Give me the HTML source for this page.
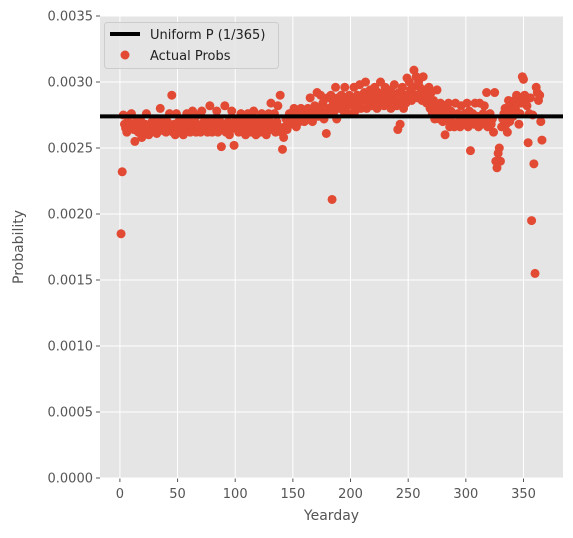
<!DOCTYPE html>
<html><head><meta charset="utf-8"><style>body{margin:0;background:#fff}svg text{font-family:"DejaVu Sans","Liberation Sans",sans-serif}</style></head>
<body>
<svg id="chart" width="573" height="533" xmlns="http://www.w3.org/2000/svg"></svg>
<script>
const xTicks=[0,50,100,150,200,250,300,350];
const yTicks=[0,0.0005,0.001,0.0015,0.002,0.0025,0.003,0.0035];
const yTickLabels=["0.0000","0.0005","0.0010","0.0015","0.0020","0.0025","0.0030","0.0035"];
const uniformP=1/365;
const probs=[
0.00185,0.00232,0.00275,0.00268,0.00265,0.00262,0.00270,0.00266,0.00275,0.00276,
0.00268,0.00264,0.00255,0.00270,0.00266,0.00262,0.00268,0.00271,0.00258,0.00265,
0.00262,0.00268,0.00276,0.00264,0.00260,0.00267,0.00262,0.00270,0.00266,0.00264,
0.00268,0.00261,0.00270,0.00264,0.00280,0.00266,0.00272,0.00263,0.00268,0.00262,
0.00270,0.00266,0.00276,0.00264,0.00290,0.00262,0.00268,0.00260,0.00276,0.00266,
0.00270,0.00262,0.00268,0.00264,0.00260,0.00270,0.00266,0.00276,0.00263,0.00268,
0.00262,0.00272,0.00278,0.00265,0.00270,0.00262,0.00268,0.00275,0.00266,0.00262,
0.00278,0.00266,0.00270,0.00264,0.00268,0.00262,0.00270,0.00282,0.00266,0.00262,
0.00268,0.00264,0.00272,0.00278,0.00262,0.00266,0.00270,0.00251,0.00264,0.00268,
0.00282,0.00262,0.00266,0.00270,0.00260,0.00264,0.00278,0.00268,0.00252,0.00266,
0.00272,0.00264,0.00262,0.00270,0.00276,0.00266,0.00262,0.00272,0.00260,0.00268,
0.00276,0.00264,0.00270,0.00262,0.00268,0.00278,0.00264,0.00260,0.00272,0.00266,
0.00270,0.00262,0.00276,0.00268,0.00264,0.00272,0.00260,0.00266,0.00276,0.00270,
0.00284,0.00264,0.00268,0.00276,0.00262,0.00270,0.00282,0.00266,0.00290,0.00262,
0.00249,0.00258,0.00266,0.00272,0.00264,0.00270,0.00276,0.00268,0.00274,0.00272,
0.00280,0.00276,0.00266,0.00278,0.00272,0.00270,0.00280,0.00274,0.00276,0.00270,
0.00278,0.00272,0.00280,0.00276,0.00288,0.00274,0.00270,0.00278,0.00282,0.00276,
0.00292,0.00274,0.00280,0.00290,0.00278,0.00284,0.00272,0.00276,0.00261,0.00288,
0.00280,0.00276,0.00290,0.00211,0.00284,0.00278,0.00296,0.00272,0.00288,0.00282,
0.00280,0.00290,0.00284,0.00278,0.00296,0.00286,0.00282,0.00276,0.00290,0.00284,
0.00288,0.00282,0.00296,0.00278,0.00286,0.00290,0.00284,0.00298,0.00280,0.00288,
0.00286,0.00292,0.00300,0.00280,0.00288,0.00284,0.00294,0.00282,0.00290,0.00286,
0.00296,0.00288,0.00280,0.00292,0.00286,0.00300,0.00284,0.00290,0.00282,0.00296,
0.00288,0.00284,0.00294,0.00286,0.00280,0.00292,0.00288,0.00298,0.00286,0.00282,
0.00264,0.00292,0.00268,0.00286,0.00296,0.00280,0.00290,0.00284,0.00303,0.00288,
0.00300,0.00294,0.00286,0.00296,0.00309,0.00290,0.00304,0.00288,0.00300,0.00296,
0.00292,0.00286,0.00304,0.00294,0.00290,0.00284,0.00288,0.00296,0.00280,0.00292,
0.00276,0.00286,0.00272,0.00282,0.00294,0.00278,0.00272,0.00284,0.00276,0.00270,
0.00280,0.00260,0.00276,0.00272,0.00284,0.00266,0.00278,0.00270,0.00276,0.00266,
0.00284,0.00268,0.00276,0.00270,0.00266,0.00282,0.00272,0.00268,0.00276,0.00270,
0.00284,0.00266,0.00278,0.00248,0.00272,0.00276,0.00268,0.00284,0.00270,0.00274,
0.00266,0.00284,0.00272,0.00268,0.00276,0.00282,0.00270,0.00292,0.00266,0.00274,
0.00276,0.00268,0.00272,0.00262,0.00292,0.00240,0.00235,0.00246,0.00250,0.00240,
0.00266,0.00272,0.00276,0.00280,0.00268,0.00262,0.00286,0.00270,0.00276,0.00282,
0.00274,0.00286,0.00280,0.00290,0.00288,0.00268,0.00276,0.00284,0.00304,0.00302,
0.00290,0.00286,0.00282,0.00254,0.00276,0.00288,0.00195,0.00275,0.00238,0.00155,
0.00296,0.00292,0.00286,0.00290,0.00270,0.00256];
const days=probs.map((_,i)=>i+1);

const NS="http://www.w3.org/2000/svg";
const svg=document.getElementById('chart');
const L=100,R=563,T=16,B=478;
const xMin=-17.25,xMax=384.25,yMin=0,yMax=0.0035;
const xs=v=>L+(v-xMin)/(xMax-xMin)*(R-L);
const ys=v=>B-(v-yMin)/(yMax-yMin)*(B-T);
function mk(tag,attrs,parent){const e=document.createElementNS(NS,tag);for(const k in attrs)e.setAttribute(k,attrs[k]);(parent||svg).appendChild(e);return e;}

const bg=mk('rect',{x:L,y:T,width:R-L,height:B-T,fill:'#e5e5e5'});



xTicks.forEach(t=>{
  const g=mk('line',{x1:xs(t),x2:xs(t),y1:T,y2:B,stroke:'#fff','stroke-width':1});
  
  
  const tk=mk('line',{x1:xs(t),x2:xs(t),y1:B,y2:B+4,stroke:'#555','stroke-width':1});
  
  
  const tx=mk('text',{x:xs(t),y:B+20,'text-anchor':'middle','font-size':13,fill:'#555'});
  tx.textContent=t;
  
  
});
yTicks.forEach((t,i)=>{
  const g=mk('line',{x1:L,x2:R,y1:ys(t),y2:ys(t),stroke:'#fff','stroke-width':1});
  
  
  const tk=mk('line',{x1:L-4,x2:L,y1:ys(t),y2:ys(t),stroke:'#555','stroke-width':1});
  
  
  const tx=mk('text',{x:L-7,y:ys(t)+4.5,'text-anchor':'end','font-size':13,fill:'#555'});
  tx.textContent=yTickLabels[i];
  
  
});

probs.forEach((p,i)=>{
  const c=mk('circle',{cx:xs(days[i]),cy:ys(p),r:4.5,fill:'#E24A33'});
  
  
});

const ul=mk('line',{x1:L,x2:R,y1:ys(uniformP),y2:ys(uniformP),stroke:'#000','stroke-width':4});



const xl=mk('text',{x:(L+R)/2,y:520,'text-anchor':'middle','font-size':14,fill:'#555'});
xl.textContent='Yearday';


const yl=mk('text',{x:0,y:0,'text-anchor':'middle','font-size':14,fill:'#555',transform:`translate(23,${(T+B)/2}) rotate(-90)`});
yl.textContent='Probability';



const lg=mk('g',{});


mk('rect',{x:104.5,y:22.5,width:174,height:46,rx:3,fill:'#e5e5e5','fill-opacity':0.8,stroke:'#ccc'},lg);
const l1=mk('line',{x1:110,x2:140,y1:34,y2:34,stroke:'#000','stroke-width':4},lg);


const t1=mk('text',{x:150,y:39,'font-size':13,fill:'#222'},lg);
t1.textContent='Uniform P (1/365)';
const c1=mk('circle',{cx:125,cy:55,r:4.5,fill:'#E24A33'},lg);


const t2=mk('text',{x:150,y:60,'font-size':13,fill:'#222'},lg);
t2.textContent='Actual Probs';
</script>
</body></html>
